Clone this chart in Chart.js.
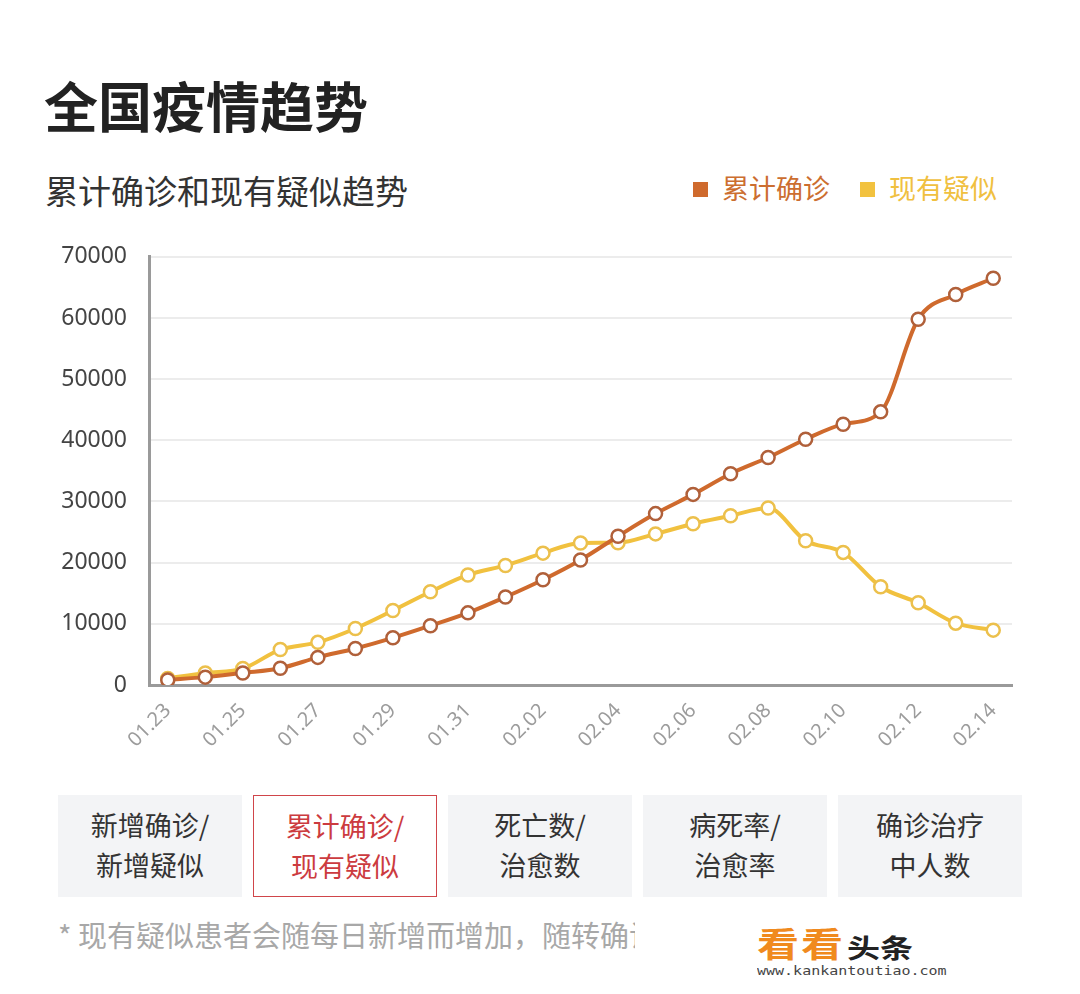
<!DOCTYPE html>
<html><head><meta charset="utf-8">
<script src="https://cdn.jsdelivr.net/npm/chart.js@4.4.1/dist/chart.umd.min.js"></script>
<style>
html,body{margin:0;padding:0;background:#fff;width:1080px;height:994px;overflow:hidden;font-family:"Noto Sans CJK SC","Noto Sans",sans-serif;}
#title{position:absolute;left:44px;top:72px;font-size:54px;font-weight:bold;color:#222;line-height:66px;}
#sub{position:absolute;left:45px;top:169px;font-size:33px;color:#333;line-height:42px;}
#legend{position:absolute;left:693px;top:171px;font-size:27px;line-height:34px;white-space:nowrap;}
#legend span.sq{display:inline-block;width:15px;height:15px;vertical-align:middle;margin-right:14px;margin-top:-4px;}
#wrap{position:absolute;left:0;top:221px;width:1080px;height:549px;}
.btn{position:absolute;top:795px;width:184px;height:102px;background:#f3f4f6;color:#333;font-size:27px;line-height:40px;text-align:center;box-sizing:border-box;padding-top:10px;}
.btn.sel{background:#fff;border:1.5px solid #d0454a;color:#cc3b3f;}
#foot{position:absolute;left:58px;top:913px;width:577px;overflow:hidden;white-space:nowrap;font-size:29px;color:#a8a8a8;line-height:42px;}
#wm{position:absolute;left:757px;top:912px;white-space:nowrap;}
</style></head><body>
<div id="title">全国疫情趋势</div>
<div id="sub">累计确诊和现有疑似趋势</div>
<div id="legend"><span class="sq" style="background:#cf6a2d"></span><span style="color:#cc6e30">累计确诊</span><span class="sq" style="background:#f2c23f;margin-left:30px"></span><span style="color:#f0c040">现有疑似</span></div>
<div id="wrap"><canvas id="c" width="1080" height="549"></canvas></div>
<div class="btn" style="left:58px">新增确诊/<br>新增疑似</div>
<div class="btn sel" style="left:253px">累计确诊/<br>现有疑似</div>
<div class="btn" style="left:448px">死亡数/<br>治愈数</div>
<div class="btn" style="left:643px">病死率/<br>治愈率</div>
<div class="btn" style="left:838px">确诊治疗<br>中人数</div>
<div id="foot">* 现有疑似患者会随每日新增而增加，随转确诊而减少</div>
<div id="wm"><span style="display:inline-block;font-size:42px;font-weight:bold;color:#f08a1e;transform:scaleY(0.8);letter-spacing:2px">看看</span><span style="display:inline-block;font-size:33px;font-weight:bold;color:#222;margin-left:2px;transform:scaleY(0.8)">头条</span><div style="font-family:'DejaVu Sans Mono',monospace;font-size:15px;color:#444;margin-top:-10px;transform:scaleY(0.85);transform-origin:left top">www.kankantoutiao.com</div></div>
<script>
const dates = ["01.23","01.24","01.25","01.26","01.27","01.28","01.29","01.30","01.31","02.01","02.02","02.03","02.04","02.05","02.06","02.07","02.08","02.09","02.10","02.11","02.12","02.13","02.14"];
const confirmedTotal = [830,1287,1975,2744,4515,5974,7711,9692,11791,14380,17205,20438,24324,28018,31161,34546,37198,40171,42638,44653,59804,63851,66492];
const suspectedNow = [1072,1965,2684,5794,6973,9239,12167,15238,17988,19544,21558,23214,23260,24702,26359,27657,28942,23589,21675,16067,13435,10109,8969];
const yTicks = [0,10000,20000,30000,40000,50000,60000,70000];
const ORANGE = "#cf6a2d", YELLOW = "#f1c13f";
const NUMFONT = '"Noto Sans",sans-serif';

new Chart(document.getElementById("c"), {
  type: "line",
  data: {
    labels: dates,
    datasets: [
      {label:"累计确诊", data: confirmedTotal, borderColor: ORANGE, backgroundColor:"#fff", borderWidth:4,
       pointRadius:6.5, pointBorderWidth:2.5, pointBorderColor:"#b0603a", pointBackgroundColor:"#fff", cubicInterpolationMode:"monotone"},
      {label:"现有疑似", data: suspectedNow, borderColor: YELLOW, backgroundColor:"#fff", borderWidth:4,
       pointRadius:6.5, pointBorderWidth:2.5, pointBorderColor:"#ecc04c", pointBackgroundColor:"#fff", cubicInterpolationMode:"monotone"}
    ]
  },
  options: {
    responsive:false, animation:false,
    layout:{padding:{left:0,right:68,top:18,bottom:0}},
    plugins:{legend:{display:false}, tooltip:{enabled:false}},
    scales:{
      x:{
        offset:true,
        grid:{display:false, drawTicks:false},
        border:{display:true, color:"#9a9a9a", width:3},
        ticks:{autoSkip:false, maxRotation:45, minRotation:45, padding:14, color:"#9c9c9c",
          font:{family:NUMFONT, size:20},
          callback:(v,i)=> i%2===0 ? dates[i] : ""},
        afterFit:(s)=>{s.height=85;}
      },
      y:{
        min:0, max:70000,
        afterBuildTicks:(s)=>{s.ticks = yTicks.map(v=>({value:v}));},
        grid:{color:"#ececec", lineWidth:2, drawTicks:false},
        border:{display:true, color:"#9a9a9a", width:3},
        ticks:{padding:22, color:"#444", font:{family:NUMFONT, size:23}, callback:(v)=>String(v)},
        afterFit:(s)=>{s.width=149;}
      }
    }
  }
});
</script>
</body></html>
